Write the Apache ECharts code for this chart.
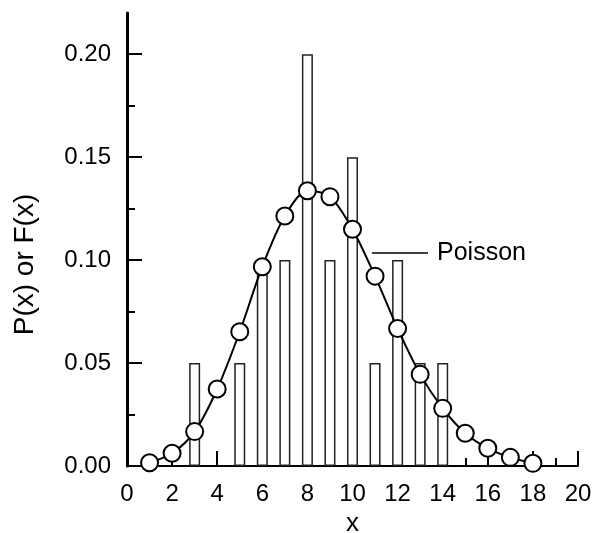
<!DOCTYPE html>
<html>
<head>
<meta charset="utf-8">
<script src="https://cdn.jsdelivr.net/npm/echarts@6/dist/echarts.min.js"></script>
<style>
	html, body { margin: 0; padding: 0; background: #fff; }
	#main { width: 594px; height: 533px; }
</style>
</head>
<body>
<div id="main"></div>
<script>
// observed frequencies (bars)
const barX = [3, 5, 6, 7, 8, 9, 10, 11, 12, 13, 14];
const barP = [0.05, 0.05, 0.10, 0.10, 0.20, 0.10, 0.15, 0.05, 0.10, 0.05, 0.05];

// Poisson curve (circles)
const poisX = [1, 2, 3, 4, 5, 6, 7, 8, 9, 10, 11, 12, 13, 14, 15, 16, 17, 18];
const poisP = [0.0016, 0.0062, 0.0167, 0.0374, 0.0652, 0.0968, 0.1214, 0.1337, 0.1308,
	0.1150, 0.0922, 0.0668, 0.0445, 0.0280, 0.0159, 0.0086, 0.0042, 0.0013];

// y ticks
const yMajor = [0, 0.05, 0.10, 0.15, 0.20];
const yMinor = [0.025, 0.075, 0.125, 0.175];

const font = 'Liberation Sans, Arial, sans-serif';

let myChart = echarts.init(document.getElementById('main'));

let option = {
	backgroundColor: '#fff',
	animation: false,
	grid: {
		left: 127,
		right: 16,
		top: 13,
		bottom: 67,
		outerBoundsMode: 'none'
	},
	xAxis: {
		type: 'value',
		min: 0,
		max: 20,
		interval: 2,
		name: 'x',
		nameLocation: 'middle',
		nameGap: 44,
		nameTextStyle: { color: '#000', fontSize: 26, fontFamily: font },
		axisLine: { lineStyle: { color: '#000', width: 2 } },
		axisTick: { inside: true, length: 15, lineStyle: { color: '#000', width: 2 } },
		minorTick: { show: true, splitNumber: 2, length: 8, lineStyle: { color: '#000', width: 2 } },
		axisLabel: { color: '#000', fontSize: 24, fontFamily: font, margin: 16 },
		splitLine: { show: false }
	},
	yAxis: [{
		type: 'value',
		min: 0,
		max: 0.22,
		name: 'P(x) or F(x)',
		nameLocation: 'middle',
		nameGap: 88,
		nameTextStyle: { color: '#000', fontSize: 28, fontFamily: font, padding: [0, 50, 0, 0] },
		axisLine: { lineStyle: { color: '#000', width: 3 } },
		axisTick: { inside: true, length: 15, customValues: yMajor, lineStyle: { color: '#000', width: 2 } },
		axisLabel: {
			color: '#000', fontSize: 24, fontFamily: font, margin: 16,
			customValues: yMajor,
			formatter: function (v) { return v.toFixed(2); }
		},
		splitLine: { show: false }
	}, {
		type: 'value',
		position: 'left',
		min: 0,
		max: 0.22,
		axisLine: { show: false },
		axisTick: { inside: true, length: 8, customValues: yMinor, lineStyle: { color: '#000', width: 2 } },
		axisLabel: { show: false },
		splitLine: { show: false }
	}],
	series: [{
		name: 'observed',
		type: 'bar',
		barWidth: 11,
		data: barX.map((x, i) => [x, barP[i]]),
		itemStyle: {
			color: '#fff',
			borderColor: '#222',
			borderWidth: 1.5
		}
	}, {
		name: 'Poisson',
		type: 'line',
		smooth: 0.3,
		symbol: 'circle',
		symbolSize: 17,
		data: poisX.map((x, i) => [x, poisP[i]]),
		lineStyle: { color: '#000', width: 2 },
		itemStyle: { color: '#fff', borderColor: '#000', borderWidth: 2 },
		z: 3,
		markLine: {
			silent: true,
			symbol: 'none',
			lineStyle: { color: '#000', width: 1.5, type: 'solid' },
			label: {
				show: true,
				position: 'end',
				distance: 9,
				formatter: 'Poisson',
				color: '#000',
				fontSize: 25,
				fontFamily: font
			},
			data: [[{ coord: [10.86, 0.1035] }, { coord: [13.35, 0.1035] }]]
		}
	}]
};

myChart.setOption(option);
</script>
</body>
</html>
